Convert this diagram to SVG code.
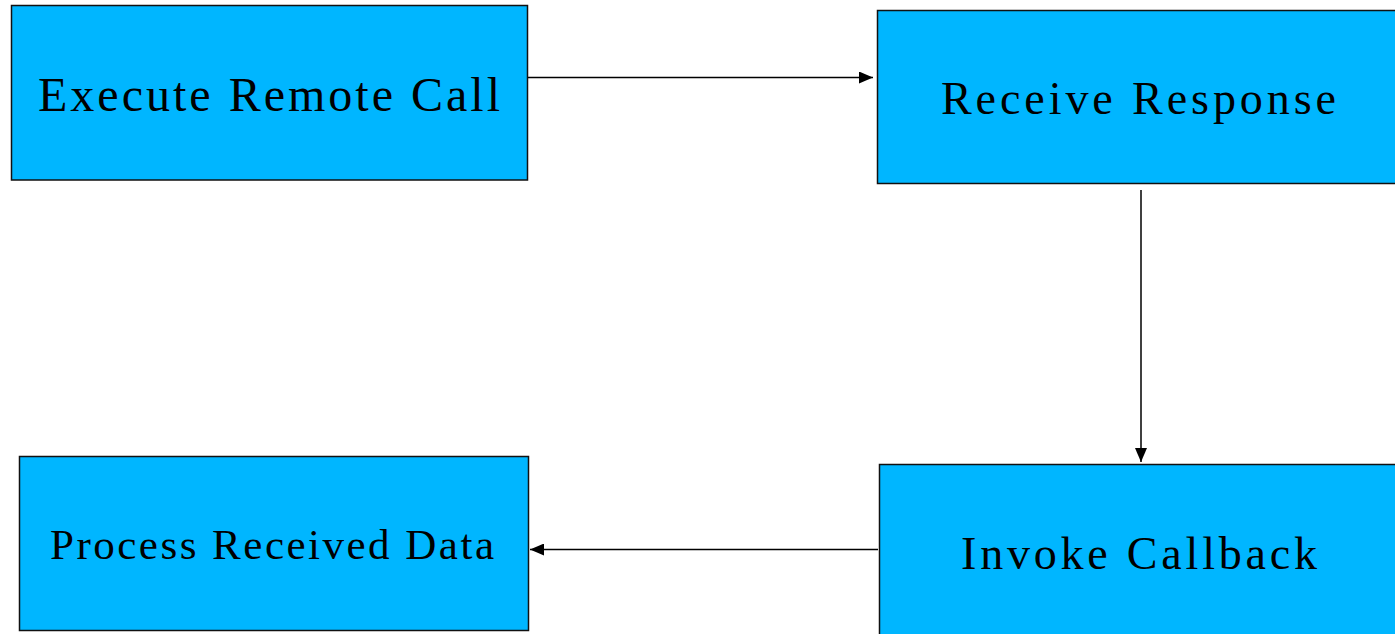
<svg xmlns="http://www.w3.org/2000/svg" width="1395" height="634" viewBox="0 0 1395 634">
<style>
.box{fill:#00b6ff;stroke:#111;stroke-width:1.5}
.lbl{font-family:"Liberation Serif","Times New Roman",serif;fill:#000}
.edge{stroke:#000;stroke-width:1.5;fill:none}
</style>
<defs>
<marker id="ah" viewBox="0 0 14 12" refX="14" refY="6" markerWidth="14" markerHeight="12" markerUnits="userSpaceOnUse" orient="auto">
<path d="M0,0 L14,6 L0,12 Z" fill="#000"/>
</marker>
</defs>
<rect width="1395" height="634" fill="#fff"/>
<g id="execute">
<rect class="box" x="11.5" y="5.5" width="516" height="174.5"/>
<text class="lbl" x="38" y="111" font-size="48" textLength="462" lengthAdjust="spacing">Execute Remote Call</text>
</g>
<g id="receive">
<rect class="box" x="877.5" y="10.5" width="530" height="173"/>
<text class="lbl" x="941" y="114" font-size="46" textLength="395" lengthAdjust="spacing">Receive Response</text>
</g>
<g id="invoke">
<rect class="box" x="879.5" y="464.5" width="530" height="180"/>
<text class="lbl" x="961" y="569" font-size="46" textLength="356" lengthAdjust="spacing">Invoke Callback</text>
</g>
<g id="process">
<rect class="box" x="19.5" y="456.5" width="509" height="174"/>
<text class="lbl" x="50" y="559" font-size="43" textLength="444" lengthAdjust="spacing">Process Received Data</text>
</g>
<g id="connectors">
<line class="edge" x1="528" y1="77.5" x2="873" y2="77.5" marker-end="url(#ah)"/>
<line class="edge" x1="1141" y1="190" x2="1141" y2="462" marker-end="url(#ah)"/>
<line class="edge" x1="878" y1="549.5" x2="530" y2="549.5" marker-end="url(#ah)"/>
</g>
</svg>
